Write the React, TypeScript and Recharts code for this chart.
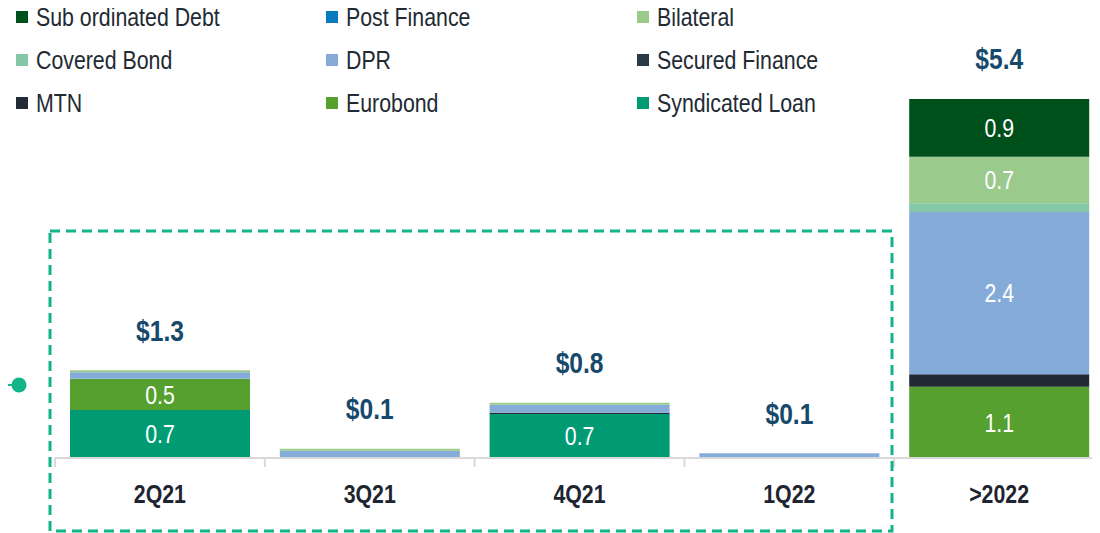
import { BarChart, Bar, XAxis, YAxis, LabelList } from 'recharts';

const categories = ['2Q21', '3Q21', '4Q21', '1Q22', '>2022'];

// $bn maturing by funding source, listed bottom of stack first
const syndicatedLoan = [0.72, 0, 0.66, 0, 0];
const eurobond = [0.47, 0, 0, 0, 1.07];
const mtn = [0, 0, 0.02, 0, 0.19];
const securedFinance = [0, 0, 0, 0, 0];
const dpr = [0.1, 0.11, 0.12, 0.07, 2.44];
const coveredBond = [0, 0, 0, 0, 0.13];
const bilateral = [0.03, 0.03, 0.03, 0, 0.7];
const postFinance = [0, 0, 0, 0, 0];
const subordinatedDebt = [0, 0, 0, 0, 0.87];

const series = [
  { key: 'syndicatedLoan', name: 'Syndicated Loan', color: '#009b72', values: syndicatedLoan },
  { key: 'eurobond', name: 'Eurobond', color: '#55a02f', values: eurobond },
  { key: 'mtn', name: 'MTN', color: '#222a35', values: mtn },
  { key: 'securedFinance', name: 'Secured Finance', color: '#2c3a47', values: securedFinance },
  { key: 'dpr', name: 'DPR', color: '#85acd9', values: dpr },
  { key: 'coveredBond', name: 'Covered Bond', color: '#84c7a8', values: coveredBond },
  { key: 'bilateral', name: 'Bilateral', color: '#9aca8c', values: bilateral },
  { key: 'postFinance', name: 'Post Finance', color: '#0a7abf', values: postFinance },
  { key: 'subordinatedDebt', name: 'Sub ordinated Debt', color: '#00501c', values: subordinatedDebt },
];

// no Arial Narrow available, so squeeze Liberation Sans horizontally
const FONT = '"Liberation Sans", Arial, sans-serif';
const SQUEEZE = 0.82;
const WIDTH = 1110;
const HEIGHT = 533;
const MARGIN = { top: 59, right: 6, bottom: 15, left: 55 };
const BAND = (WIDTH - MARGIN.left - MARGIN.right) / categories.length;

const data = categories.map((category, i) => {
  const row: Record<string, number | string> = { category };
  let total = 0;
  let top = '';
  series.forEach((s) => {
    row[s.key] = s.values[i];
    total += s.values[i];
    if (s.values[i] > 0) top = s.key;
  });
  row.total = total;
  row.topKey = top;
  return row;
});

// legend reads top of stack first, three per row
const legendItems = [...series].reverse();
const legendCols = [16, 326, 637];
const legendRows = [17, 60, 103];

function NarrowText({ x, y, fill, size, bold, children }: any) {
  return (
    <text
      transform={`translate(${x},${y}) scale(${SQUEEZE},1)`}
      fill={fill}
      fontSize={size}
      fontWeight={bold ? 'bold' : 'normal'}
      fontFamily={FONT}
      textAnchor="middle"
      dominantBaseline="central"
    >
      {children}
    </text>
  );
}

function SegmentLabel(props: any) {
  const { x, y, width, height, value } = props;
  if (value == null || value < 0.3) return null;
  return (
    <NarrowText x={x + width / 2} y={y + height / 2} fill="#ffffff" size={26}>
      {Number(value).toFixed(1)}
    </NarrowText>
  );
}

function TotalLabel(props: any) {
  const { x, y, width, value } = props;
  if (value == null) return null;
  return (
    <NarrowText x={x + width / 2} y={y - 40} fill="#16496b" size={30} bold>
      ${Number(value).toFixed(1)}
    </NarrowText>
  );
}

function CategoryTick(props: any) {
  const { x, y, payload } = props;
  const left = x - BAND / 2;
  return (
    <g>
      <line x1={left} y1={y - 8} x2={left} y2={y + 1} stroke="#d9d9d9" strokeWidth={2} />
      <NarrowText x={x} y={y + 28} fill="#1e2530" size={26} bold>
        {payload.value}
      </NarrowText>
    </g>
  );
}

export default function App() {
  return (
    <div
      style={{
        position: 'relative',
        width: 1100,
        height: HEIGHT,
        margin: '-8px -8px 0 -8px',
        overflow: 'hidden',
        background: '#fff',
      }}
    >
      {legendItems.map((s, i) => (
        <div
          key={s.key}
          style={{
            position: 'absolute',
            left: legendCols[i % 3],
            top: legendRows[Math.floor(i / 3)] - 15,
            height: 30,
            display: 'flex',
            alignItems: 'center',
            fontFamily: FONT,
            fontSize: 26,
            color: '#222a33',
            whiteSpace: 'nowrap',
          }}
        >
          <span style={{ width: 12, height: 12, background: s.color, marginRight: 8 }} />
          <span style={{ display: 'inline-block', transform: `scaleX(${SQUEEZE})`, transformOrigin: 'left center' }}>
            {s.name}
          </span>
        </div>
      ))}

      <div style={{ position: 'absolute', left: 0, top: 0 }}>
        <BarChart width={WIDTH} height={HEIGHT} data={data} margin={MARGIN} barSize={180}>
          <XAxis
            dataKey="category"
            axisLine={{ stroke: '#d9d9d9', strokeWidth: 2 }}
            tickLine={false}
            tick={<CategoryTick />}
            interval={0}
            height={60}
          />
          <YAxis hide domain={[0, 6]} />
          {series.map((s) => (
            <Bar
              key={s.key}
              dataKey={s.key}
              name={s.name}
              stackId="maturity"
              fill={s.color}
              isAnimationActive={false}
            >
              <LabelList dataKey={s.key} content={<SegmentLabel />} />
              {/* total sits above whichever series tops the stack */}
              <LabelList
                dataKey={(row: any) => (row.topKey === s.key ? row.total : null)}
                content={<TotalLabel />}
              />
            </Bar>
          ))}
        </BarChart>
      </div>

      {/* highlight box around the near-term maturities */}
      <svg
        width={1100}
        height={HEIGHT}
        style={{ position: 'absolute', left: 0, top: 0, pointerEvents: 'none' }}
      >
        <rect
          x={50}
          y={231}
          width={842}
          height={300}
          fill="none"
          stroke="#13b48a"
          strokeWidth={3}
          strokeDasharray="10 6"
        />
        <line x1={0} y1={385} x2={14} y2={385} stroke="#13b48a" strokeWidth={2} />
        <circle cx={19} cy={385} r={7.5} fill="#13b48a" />
      </svg>
    </div>
  );
}
